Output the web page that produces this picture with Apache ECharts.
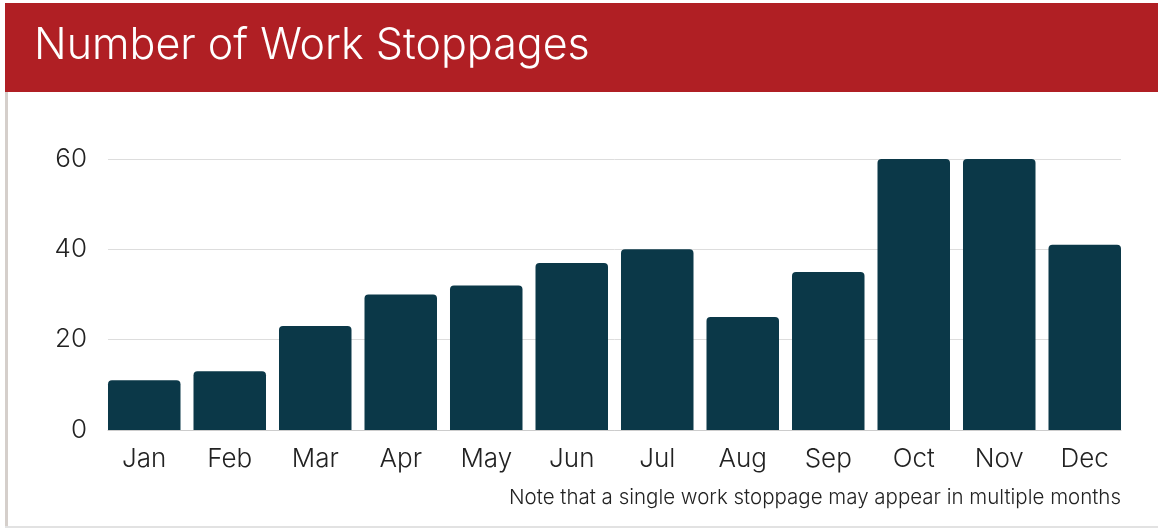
<!DOCTYPE html>
<html><head><meta charset="utf-8">
<script src="https://cdn.jsdelivr.net/npm/echarts@6/dist/echarts.min.js"></script>
<style>html,body{margin:0;padding:0;background:#fff}#c{width:1158px;height:529px}</style>
</head><body><div id="c"></div>
<script>
const months = ['Jan','Feb','Mar','Apr','May','Jun','Jul','Aug','Sep','Oct','Nov','Dec'];
const stoppages = [11,13,23,30,32,37,40,25,35,60,60,41];
const yTicks = [0,20,40,60];
const titleText = 'Number of Work Stoppages';
const noteText = 'Note that a single work stoppage may appear in multiple months';

const FONT = 'Inter, "Liberation Sans", sans-serif';
const chart = echarts.init(document.getElementById('c'), null, {renderer:'canvas'});
chart.setOption({
  animation:false,
  backgroundColor:'#fff',
  graphic:[
    {type:'rect', left:5, top:3, shape:{width:1153, height:89}, style:{fill:'#B01F24'}},
    {type:'rect', left:5, top:92, shape:{width:3, height:436}, style:{fill:'#D5CFCB'}},
    {type:'rect', left:5, top:526, shape:{width:1153, height:2}, style:{fill:'#E2E2E2'}},
    {type:'text', left:34, top:25, style:{text:titleText, fill:'#fff', font:'300 43px ' + FONT}},
    {type:'text', right:37, top:487, style:{text:noteText, fill:'#222', font:'300 20.5px ' + FONT}}
  ],
  grid:[
    {left:108, right:37, top:159, bottom:99, containLabel:false},
    {left:101.5, right:30.5, top:159, bottom:99, containLabel:false}
  ],
  xAxis:[
    {type:'category', gridIndex:0, data:months,
      axisLine:{show:true, lineStyle:{color:'#cccccc'}}, axisTick:{show:false},
      axisLabel:{show:false}},
    {type:'category', gridIndex:1, data:months,
      axisLine:{show:false}, axisTick:{show:false},
      axisLabel:{color:'#222', fontSize:26, fontWeight:300, fontFamily:FONT, margin:16}}
  ],
  yAxis:[
    {type:'value', gridIndex:0, min:0, max:60, interval:20,
      axisLine:{show:false}, axisTick:{show:false},
      splitLine:{lineStyle:{color:'#dddddd'}},
      axisLabel:{color:'#222', fontSize:26, fontWeight:300, fontFamily:FONT, margin:21,
        formatter:v=>yTicks.includes(v)?String(v):''}},
    {type:'value', gridIndex:1, min:0, max:60, interval:20, show:false}
  ],
  series:[{type:'bar', xAxisIndex:1, yAxisIndex:1, data:stoppages, barCategoryGap:'15.2%',
    itemStyle:{color:'#0B3848', borderRadius:[4,4,0,0]}}]
});
</script></body></html>
